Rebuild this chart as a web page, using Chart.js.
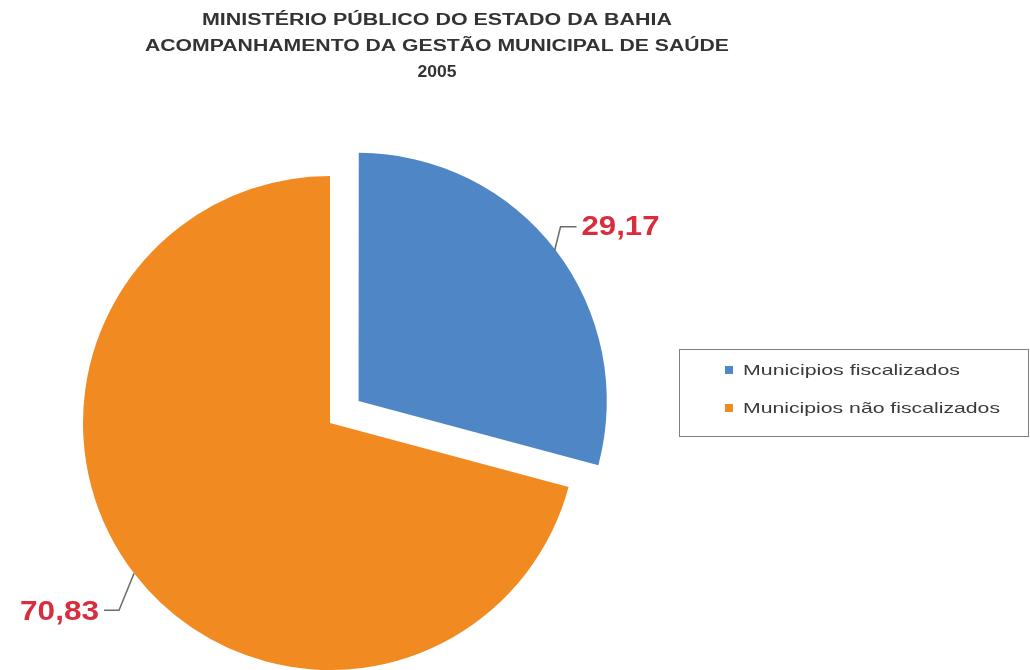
<!DOCTYPE html>
<html>
<head>
<meta charset="utf-8">
<script src="https://cdn.jsdelivr.net/npm/chart.js@4/dist/chart.umd.min.js"></script>
<style>
  html, body { margin: 0; padding: 0; background: #ffffff; }
  #wrap { position: relative; width: 1030px; height: 670px; }
</style>
</head>
<body>
<div id="wrap"><canvas id="chart" width="1030" height="670"></canvas></div>
<script>
// Chart data
const titleLines = [
  'MINISTÉRIO PÚBLICO DO ESTADO DA BAHIA',
  'ACOMPANHAMENTO DA GESTÃO MUNICIPAL DE SAÚDE',
  '2005'
];
const categories = ['Municipios fiscalizados', 'Municipios não fiscalizados'];
const percentages = [29.17, 70.83];
const sliceColors = ['#4F86C6', '#F28A22'];
// How far each slice is pulled out from the centre, in pixels
const explodePx = [36, 0];

const fmt = v => v.toFixed(2).replace('.', ',');
const FONT = '"Liberation Sans", Arial, sans-serif';

// Draw text stretched horizontally to a given width
function fitText(ctx, text, x, y, width, align) {
  const natural = ctx.measureText(text).width;
  const sx = width / natural;
  ctx.save();
  let left = x;
  if (align === 'center') left = x - width / 2;
  else if (align === 'right') left = x - width;
  ctx.translate(left, y);
  ctx.scale(sx, 1);
  ctx.textAlign = 'left';
  ctx.fillText(text, 0, 0);
  ctx.restore();
}

const decorations = {
  id: 'decorations',
  afterDraw(chart) {
    const ctx = chart.ctx;
    ctx.save();
    ctx.textBaseline = 'middle';

    // Title block
    ctx.fillStyle = '#333333';
    ctx.font = 'bold 16px ' + FONT;
    const titleW = [470, 584, 39];
    const titleY = [21, 47, 73];
    titleLines.forEach((t, i) => fitText(ctx, t, 437, titleY[i], titleW[i], 'center'));

    // Legend box
    ctx.strokeStyle = '#808080';
    ctx.lineWidth = 1;
    ctx.strokeRect(679.5, 349.5, 349, 87);
    ctx.font = '15px ' + FONT;
    const legW = [217, 257];
    categories.forEach((c, i) => {
      const cy = 370 + i * 38;
      ctx.fillStyle = sliceColors[i];
      ctx.fillRect(725, cy - 4, 8, 8);
      ctx.fillStyle = '#3a3a3a';
      fitText(ctx, c, 743, cy + 1, legW[i], 'left');
    });

    // Value labels with leader lines from each slice's mid-arc point
    const meta = chart.getDatasetMeta(0);
    ctx.font = 'bold 27px ' + FONT;
    meta.data.forEach((arc, i) => {
      const p = arc.getProps(['x', 'y', 'startAngle', 'endAngle', 'outerRadius']);
      const mid = (p.startAngle + p.endAngle) / 2;
      const r = p.outerRadius + explodePx[i];
      const ax = p.x + Math.cos(mid) * r;
      const ay = p.y + Math.sin(mid) * r;
      const right = Math.cos(mid) >= 0;
      const up = Math.sin(mid) < 0;
      const ex = ax + (right ? 6 : -15);
      const ey = ay + (up ? -24 : 37);
      const hx = ex + (right ? 16 : -15);
      ctx.strokeStyle = '#6b6b6b';
      ctx.lineWidth = 1.5;
      ctx.beginPath();
      ctx.moveTo(ax, ay);
      ctx.lineTo(ex, ey);
      ctx.lineTo(hx, ey);
      ctx.stroke();
      ctx.fillStyle = '#D92C3C';
      const label = fmt(percentages[i]);
      if (right) fitText(ctx, label, hx + 5, ey + 1, 78, 'left');
      else fitText(ctx, label, hx - 5, ey + 2, 79, 'right');
    });
    ctx.restore();
  }
};

new Chart(document.getElementById('chart'), {
  type: 'pie',
  data: {
    labels: categories,
    datasets: [{
      data: percentages,
      backgroundColor: sliceColors,
      borderWidth: 0,
      // Chart.js v4 translates an arc by a quarter of its offset value
      offset: explodePx.map(o => o * 4),
      clip: false
    }]
  },
  options: {
    responsive: false,
    animation: false,
    radius: 247,
    layout: { padding: { left: 0, right: 370, top: 176, bottom: 0 } },
    plugins: {
      legend: { display: false },
      title: { display: false },
      tooltip: { enabled: false }
    }
  },
  plugins: [decorations]
});
</script>
</body>
</html>
